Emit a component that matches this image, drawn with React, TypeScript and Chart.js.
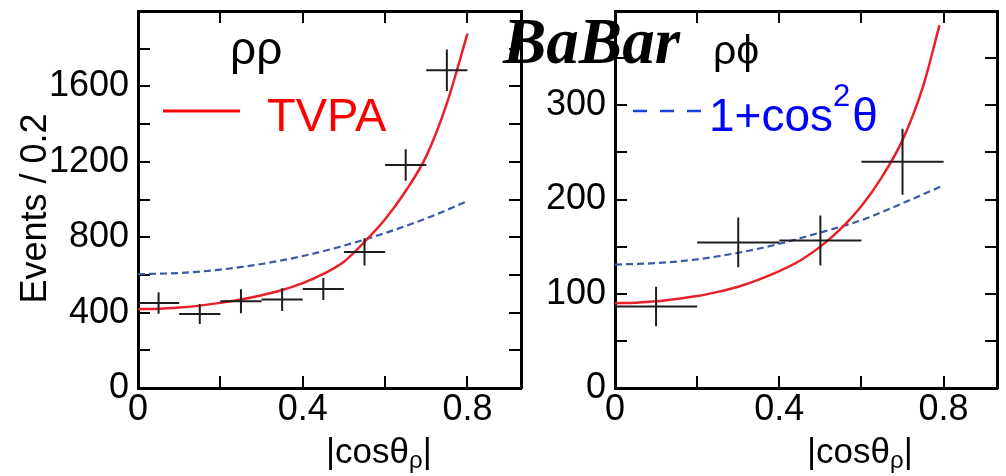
import React, { useEffect, useRef } from "react";
import { Chart, registerables } from "chart.js";

Chart.register(...registerables);

const SANS = '"Liberation Sans", Arial, Helvetica, sans-serif';
const SERIF = '"Liberation Serif", "Times New Roman", serif';

// ---------- shared axis ----------
const xMax = 0.93;
const xTickValues = [0, 0.2, 0.4, 0.6, 0.8];
const xTickLabels = [0, 0.4, 0.8];

// ---------- ρρ panel ----------
const rrBinCenters = [0.05, 0.15, 0.25, 0.35, 0.45, 0.55, 0.65, 0.75];
const rrBinHalfWidth = 0.05;
const rrEvents = [451, 393, 460, 469, 525, 722, 1183, 1686];
const rrErrors = [57, 53, 64, 60, 58, 72, 84, 110];
const rrTvpaX = [0, 0.05, 0.1, 0.15, 0.2, 0.25, 0.3, 0.35, 0.4, 0.45, 0.5, 0.55, 0.6, 0.65, 0.7, 0.75, 0.8];
const rrTvpaY = [418, 420, 427, 437, 452, 469, 492, 520, 556, 605, 670, 775, 895, 1045, 1230, 1510, 1880];
const rrCos2X = [0, 0.1, 0.2, 0.3, 0.4, 0.5, 0.6, 0.7, 0.8];
const rrCos2Y = [604, 610, 628, 658, 700, 755, 822, 900, 991];
const rrYMax = 2000;
const rrYTickValues = [0, 200, 400, 600, 800, 1000, 1200, 1400, 1600, 1800];
const rrYTickLabels = [0, 400, 800, 1200, 1600];

// ---------- ρϕ panel ----------
const rpBinCenters = [0.1, 0.3, 0.5, 0.7];
const rpBinHalfWidth = 0.1;
const rpEvents = [86.5, 154.5, 156.5, 240];
const rpErrors = [21, 26.5, 26.5, 35];
const rpTvpaX = [0, 0.05, 0.1, 0.15, 0.2, 0.25, 0.3, 0.35, 0.4, 0.45, 0.5, 0.55, 0.6, 0.65, 0.7, 0.75, 0.79];
const rpTvpaY = [90, 90.5, 92, 94.5, 97.5, 102, 107.5, 115, 124, 135, 150, 169, 193, 224, 263, 320, 385];
const rpCos2X = [0, 0.1, 0.2, 0.3, 0.4, 0.5, 0.6, 0.7, 0.8];
const rpCos2Y = [131, 132.5, 136.5, 143.5, 153, 165, 178, 196, 215];
const rpYMax = 400;
const rpYTickValues = [0, 50, 100, 150, 200, 250, 300, 350];
const rpYTickLabels = [0, 100, 200, 300];

function zip(xs: number[], ys: number[]) {
  return xs.map((x, i) => ({ x, y: ys[i] }));
}

function crosses(centers: number[], values: number[], half: number, errs: number[]) {
  const out: any[] = [];
  centers.forEach((c, i) => {
    out.push({ x: c - half, y: values[i] }, { x: c + half, y: values[i] }, { x: c, y: null });
    out.push({ x: c, y: values[i] - errs[i] }, { x: c, y: values[i] + errs[i] }, { x: c, y: null });
  });
  return out;
}

function labelFor(list: number[]) {
  return (v: any) => {
    const hit = list.find((t) => Math.abs(t - Number(v)) < 1e-6);
    return hit === undefined ? "" : String(hit);
  };
}

function fixedTicks(values: number[]) {
  return (s: any) => {
    s.ticks = values.map((v) => ({ value: v }));
  };
}

type Run = { text: string; size: number; dy?: number; font?: string; style?: string; gap?: number };
type TextItem = { x: number; y: number; color: string; runs: Run[] };
type LineItem = { x1: number; x2: number; y: number; color: string; width: number; dash?: number[] };

function annotations(items: TextItem[], lines: LineItem[]) {
  return {
    id: "annotations",
    afterDraw(chart: any) {
      const ctx = chart.ctx as CanvasRenderingContext2D;
      ctx.save();
      for (const l of lines) {
        ctx.beginPath();
        ctx.strokeStyle = l.color;
        ctx.lineWidth = l.width;
        ctx.setLineDash(l.dash || []);
        ctx.moveTo(l.x1, l.y);
        ctx.lineTo(l.x2, l.y);
        ctx.stroke();
      }
      ctx.setLineDash([]);
      ctx.textAlign = "left";
      ctx.textBaseline = "alphabetic";
      for (const it of items) {
        let x = it.x;
        ctx.fillStyle = it.color;
        for (const r of it.runs) {
          ctx.font = `${r.style || ""} ${r.size}px ${r.font || SANS}`.trim();
          ctx.fillText(r.text, x, it.y + (r.dy || 0));
          x += ctx.measureText(r.text).width + (r.gap || 0);
        }
      }
      ctx.restore();
    },
  };
}

function makeScales(yMax: number, yTicks: number[], yLabels: number[], yWidth: number, yTitle: string | null) {
  const tickFont = { family: SANS, size: 36 };
  const grid = { drawOnChartArea: false, drawTicks: true, tickLength: -12, lineWidth: 2, color: "#000" };
  const border = { display: true, color: "#000", width: 3 };
  return {
    x: {
      type: "linear",
      position: "bottom",
      min: 0,
      max: xMax,
      afterBuildTicks: fixedTicks(xTickValues),
      ticks: { autoSkip: false, maxRotation: 0, padding: 12, font: tickFont, color: "#000", callback: labelFor(xTickLabels) },
      grid,
      border,
      afterFit: (s: any) => { s.height = 88; s.paddingLeft = 0; s.paddingRight = 0; },
    },
    x2: {
      type: "linear",
      position: "top",
      min: 0,
      max: xMax,
      afterBuildTicks: fixedTicks(xTickValues),
      ticks: { display: false },
      grid,
      border,
      afterFit: (s: any) => { s.height = 0; s.paddingLeft = 0; s.paddingRight = 0; },
    },
    y: {
      type: "linear",
      position: "left",
      min: 0,
      max: yMax,
      afterBuildTicks: fixedTicks(yTicks),
      ticks: { autoSkip: false, padding: 21, font: tickFont, color: "#000", callback: labelFor(yLabels) },
      grid,
      border,
      title: yTitle
        ? { display: true, text: yTitle, font: { family: SANS, size: 36 }, color: "#000", padding: { top: 14, bottom: 0 } }
        : { display: false },
      afterFit: (s: any) => { s.width = yWidth; s.paddingTop = 0; s.paddingBottom = 0; },
    },
    y2: {
      type: "linear",
      position: "right",
      min: 0,
      max: yMax,
      afterBuildTicks: fixedTicks(yTicks),
      ticks: { display: false },
      grid,
      border,
      afterFit: (s: any) => { s.width = 0; s.paddingTop = 0; s.paddingBottom = 0; },
    },
  };
}

function buildConfig(opts: any) {
  return {
    type: "line",
    data: {
      datasets: [
        { data: opts.cross, borderColor: "#1e1e1e", borderWidth: 2, pointRadius: 0, spanGaps: false, tension: 0, fill: false },
        { data: opts.tvpa, borderColor: "#e8202a", borderWidth: 2.5, pointRadius: 0, cubicInterpolationMode: "monotone", fill: false },
        { data: opts.cos2, borderColor: "#3b5aa6", borderWidth: 2.2, borderDash: [7, 4], pointRadius: 0, cubicInterpolationMode: "monotone", fill: false },
      ],
    },
    options: {
      responsive: false,
      animation: false,
      devicePixelRatio: 1,
      events: [],
      layout: { autoPadding: false, padding: opts.padding },
      plugins: { legend: { display: false }, tooltip: { enabled: false } },
      scales: opts.scales,
    },
    plugins: [annotations(opts.items, opts.lines)],
  };
}

export default function App() {
  const leftRef = useRef<HTMLCanvasElement | null>(null);
  const rightRef = useRef<HTMLCanvasElement | null>(null);

  useEffect(() => {
    const left = new Chart(leftRef.current as any, buildConfig({
      cross: crosses(rrBinCenters, rrEvents, rrBinHalfWidth, rrErrors),
      tvpa: zip(rrTvpaX, rrTvpaY),
      cos2: zip(rrCos2X, rrCos2Y),
      padding: { left: 0, top: 11, right: 485, bottom: 0 },
      scales: makeScales(rrYMax, rrYTickValues, rrYTickLabels, 138, "Events / 0.2\u2002"),
      items: [
        { x: 230, y: 64, color: "#000", runs: [{ text: "ρρ", size: 46 }] },
        { x: 267, y: 131, color: "#ff0000", runs: [{ text: "TVPA", size: 47 }] },
        { x: 326, y: 463, color: "#000", runs: [{ text: "|cosθ", size: 35 }, { text: "ρ", size: 24, dy: 5 }, { text: "|", size: 35 }] },
      ],
      lines: [{ x1: 163, x2: 240, y: 111, color: "#ff0000", width: 3 }],
    }) as any);

    const right = new Chart(rightRef.current as any, buildConfig({
      cross: crosses(rpBinCenters, rpEvents, rpBinHalfWidth, rpErrors),
      tvpa: zip(rpTvpaX, rpTvpaY),
      cos2: zip(rpCos2X, rpCos2Y),
      padding: { left: 515, top: 11, right: 9, bottom: 0 },
      scales: makeScales(rpYMax, rpYTickValues, rpYTickLabels, 100, null),
      items: [
        { x: 713, y: 64, color: "#000", runs: [{ text: "ρϕ", size: 41 }] },
        { x: 709, y: 131, color: "#0000ff", runs: [{ text: "1+cos", size: 46 }, { text: "2", size: 31, dy: -25, gap: 2 }, { text: "θ", size: 46 }] },
        { x: 807, y: 463, color: "#000", runs: [{ text: "|cosθ", size: 35 }, { text: "ρ", size: 24, dy: 5 }, { text: "|", size: 35 }] },
        { x: 503, y: 63, color: "#000", runs: [{ text: "BaBar", size: 65, style: "italic bold", font: SERIF }] },
      ],
      lines: [{ x1: 633, x2: 702, y: 111, color: "#1f3fdc", width: 2.5, dash: [14, 13] }],
    }) as any);

    return () => {
      left.destroy();
      right.destroy();
    };
  }, []);

  return (
    <div style={{ position: "absolute", left: 0, top: 0, width: 1006, height: 476, background: "#fff", overflow: "hidden" }}>
      <canvas ref={leftRef} width={1006} height={476} style={{ position: "absolute", left: 0, top: 0 }} />
      <canvas ref={rightRef} width={1006} height={476} style={{ position: "absolute", left: 0, top: 0 }} />
    </div>
  );
}
